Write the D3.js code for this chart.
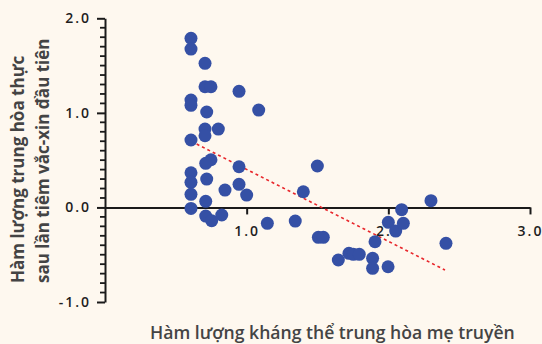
<!DOCTYPE html>
<html>
<head>
<meta charset="utf-8">
<script src="https://cdn.jsdelivr.net/npm/d3@7"></script>
<style>
  html, body { margin: 0; padding: 0; background: #fef8ef; }
  svg { display: block; }
  text { font-family: "Open Sans", "Noto Sans", sans-serif; }
</style>
</head>
<body>
<svg id="chart" width="542" height="344"></svg>
<script>
// Maternal neutralizing antibody level (x) vs. neutralizing level after first vaccine dose (y)
const maternal = [
  0.607, 0.607, 0.706, 0.706, 0.748, 0.946, 0.607, 0.607, 0.718, 1.085,
  0.706, 0.800, 0.706, 0.607, 0.748, 0.711, 0.946, 1.499, 0.607, 0.607,
  0.718, 0.847, 0.946, 1.000, 1.400, 0.607, 0.711, 0.607, 0.711, 0.753,
  0.824, 1.146, 1.343, 1.506, 1.541, 1.647, 1.722, 1.753, 1.795, 1.889,
  1.889, 1.906, 1.998, 2.000, 2.052, 2.094, 2.106, 2.301, 2.407
];
const postDose = [
  1.788, 1.675, 1.524, 1.276, 1.276, 1.228, 1.136, 1.080, 1.009, 1.030,
  0.829, 0.829, 0.758, 0.713, 0.504, 0.466, 0.430, 0.438, 0.367, 0.265,
  0.300, 0.184, 0.244, 0.131, 0.166, 0.139, 0.065, -0.010, -0.091, -0.141,
  -0.080, -0.168, -0.144, -0.316, -0.316, -0.556, -0.485, -0.496, -0.496, -0.538,
  -0.644, -0.363, -0.627, -0.158, -0.250, -0.024, -0.168, 0.071, -0.380
];
// Fitted trend line end points
const trendX = [0.647, 2.400];
const trendY = [0.670, -0.662];

const xTicks = [1.0, 2.0, 3.0];
const yTicks = [-1.0, 0.0, 1.0, 2.0];
const yTitle = ["Hàm lượng trung hòa thực", "sau lần tiêm vắc-xin đầu tiên"];
const xTitle = "Hàm lượng kháng thể trung hòa mẹ truyền";

const svg = d3.select("#chart");

const x = d3.scaleLinear().domain([0, 3]).range([105, 530]);
const y = d3.scaleLinear().domain([-1, 2]).range([302, 18.3]);

const axisColor = "#1a1a1a";
const labelColor = "#1e1e1e";
const fmt = d => d.toFixed(1);   // plain hyphen for negatives

function styleAxis(g) {
  g.select(".domain").attr("stroke", axisColor).attr("stroke-width", 2);
  g.selectAll(".tick line").attr("stroke", axisColor).attr("stroke-width", 2);
  g.selectAll(".tick text")
    .attr("font-size", 14).attr("font-weight", 600)
    .attr("fill", labelColor)
    .style("letter-spacing", "2px");
}

// Y axis: major ticks each 1.0, minor ticks every 0.1
const yAxis = svg.append("g").attr("transform", `translate(${x(0)},0)`);
yAxis.call(d3.axisLeft(y).tickValues(yTicks).tickSize(8).tickSizeOuter(0)
  .tickPadding(6).tickFormat(fmt));
styleAxis(yAxis);
const minor = d3.range(-10, 21).filter(i => i % 10 !== 0).map(i => i / 10);
svg.append("g").selectAll("rect").data(minor).join("rect")
  .attr("x", x(0) - 5).attr("width", 5)
  .attr("y", d => y(d) - 0.9).attr("height", 1.8)
  .attr("fill", axisColor);

// X axis along y = 0
const xAxis = svg.append("g").attr("transform", `translate(0,${y(0)})`);
xAxis.call(d3.axisBottom(x).tickValues(xTicks).tickSize(7).tickSizeOuter(0)
  .tickPadding(12).tickFormat(fmt));
styleAxis(xAxis);

// Trend line
svg.append("line")
  .attr("x1", x(trendX[0])).attr("y1", y(trendY[0]))
  .attr("x2", x(trendX[1])).attr("y2", y(trendY[1]))
  .attr("stroke", "#e8262b").attr("stroke-width", 1.6)
  .attr("stroke-dasharray", "3,3");

// Points
svg.append("g").selectAll("circle")
  .data(maternal.map((v, i) => [v, postDose[i]]))
  .join("circle")
  .attr("cx", d => x(d[0])).attr("cy", d => y(d[1]))
  .attr("r", 6.5)
  .attr("fill", "#3550a5");

// Axis titles
const yt = svg.append("text")
  .attr("transform", "translate(18,283) rotate(-90)")
  .attr("text-anchor", "start")
  .attr("font-size", 17).attr("font-weight", 700).attr("fill", "#444");
yt.selectAll("tspan").data(yTitle).join("tspan")
  .attr("x", 0).attr("dy", (d, i) => i === 0 ? "0.35em" : "1.47em")
  .text(d => d);

svg.append("text")
  .attr("x", 150).attr("y", 339)
  .attr("font-size", 17.6).attr("font-weight", 600).attr("fill", "#444")
  .text(xTitle);
</script>
</body>
</html>
